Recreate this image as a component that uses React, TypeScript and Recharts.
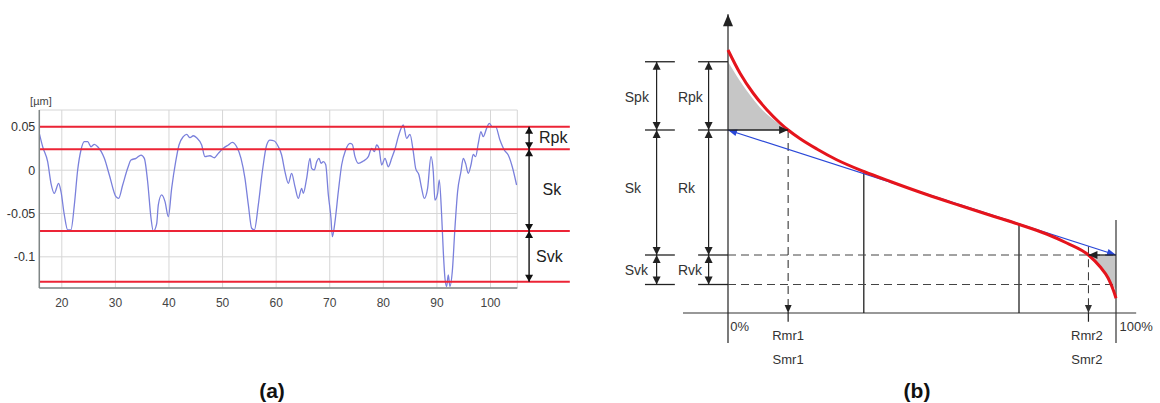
import React from 'react';
import {
  ComposedChart,
  Line,
  Area,
  XAxis,
  YAxis,
  CartesianGrid,
  ReferenceLine,
  ReferenceDot,
} from 'recharts';

const FONT = '"Liberation Sans", Arial, Helvetica, sans-serif';

// ---------------- Panel (a): roughness profile ----------------
const profileX = [
  15.8, 16.43, 17.36, 17.98, 18.6, 19.41, 19.85, 20.47, 21.1, 21.7, 22.34, 22.96, 23.58, 24.2, 24.83,
  25.45, 26.07, 26.7, 27.94, 28.87, 30.11, 30.61, 31.36, 32.29, 32.91, 33.85, 34.78, 35.4, 36.02,
  36.65, 37.08, 37.7, 38.01, 38.63, 39.26, 39.88, 40.5, 41.25, 41.87, 42.67, 43.3, 43.92, 44.54,
  45.16, 46.1, 46.72, 47.65, 48.46, 49.2, 50.14, 51.07, 51.82, 52.63, 53.44, 54.18, 54.81, 55.43,
  55.93, 56.67, 57.42, 58.23, 58.85, 59.66, 60.41, 61.02, 61.64, 62.27, 62.89, 63.51, 64.13, 64.76,
  65.07, 65.69, 66.31, 66.62, 67.12, 67.56, 68.0, 68.37, 68.8, 69.24, 69.74, 70.23, 70.48, 70.98,
  71.6, 72.22, 72.97, 73.77, 74.21, 74.71, 75.33, 76.26, 77.2, 77.82, 78.32, 78.75, 79.19, 79.69,
  80.31, 80.93, 81.56, 82.3, 82.79, 83.72, 84.35, 84.97, 85.59, 86.03, 86.65, 87.15, 87.64, 88.26,
  88.89, 89.32, 89.63, 90.13, 90.44, 90.88, 91.19, 91.5, 91.81, 92.12, 92.43, 92.87, 93.36, 93.86,
  94.48, 94.92, 95.35, 95.85, 96.35, 96.78, 97.22, 97.72, 98.21, 98.65, 99.27, 99.77, 100.33,
  100.95, 101.76, 102.57, 103.31, 104.06, 104.87,
];
const profileY = [
  0.0426, 0.0271, 0.0098, -0.0151, -0.0267, -0.0151, -0.0248, -0.0517, -0.069, -0.069, -0.0401,
  0.0002, 0.0233, 0.0329, 0.0329, 0.0271, 0.0298, 0.0271, 0.0137, -0.0055, -0.0306, -0.0325,
  -0.0171, 0.0022, 0.0118, 0.0137, 0.0175, 0.0137, -0.0133, -0.0555, -0.0705, -0.062, -0.0401,
  -0.0286, -0.0363, -0.0536, -0.0209, 0.0098, 0.0291, 0.0387, 0.0414, 0.0375, 0.0398, 0.0375,
  0.0291, 0.0156, 0.0167, 0.0144, 0.0194, 0.0252, 0.0291, 0.0321, 0.0271, 0.0137, -0.0094, -0.0401,
  -0.067, -0.069, -0.0401, -0.0017, 0.0291, 0.0348, 0.0337, 0.0271, 0.0175, -0.0017, -0.0151,
  -0.0036, -0.019, -0.0325, -0.0209, -0.0267, -0.0094, 0.0137, 0.0022, 0.0003, 0.0098, 0.0137,
  0.0079, 0.0098, 0.0067, -0.0286, -0.0555, -0.0767, -0.0594, -0.0248, 0.006, 0.0233, 0.031,
  0.0298, 0.0156, 0.0079, 0.0106, 0.0156, 0.0252, 0.0214, 0.0291, 0.0252, 0.006, 0.0137, 0.004,
  0.0137, 0.0271, 0.0387, 0.0522, 0.0367, 0.0414, 0.0214, 0.0022, -0.0055, -0.0209, -0.0325,
  -0.0209, 0.0156, -0.0017, -0.0344, -0.0267, -0.0113, -0.0517, -0.094, -0.1247, -0.1343, -0.1209,
  -0.1343, -0.117, -0.067, -0.0248, -0.0017, 0.0137, 0.0079, -0.0036, 0.006, 0.0183, 0.0156, 0.031,
  0.0444, 0.0387, 0.0483, 0.0541, 0.0502, 0.0502, 0.0348, 0.0233, 0.0175, 0.004, -0.0171,
];
const profileData = profileX.map((x, i) => ({ x, h: profileY[i] }));

const aXTicks = [20, 30, 40, 50, 60, 70, 80, 90, 100];
const aYTicks = [-0.1, -0.05, 0, 0.05];
const aXDomain: [number, number] = [15.8, 105];
const aYDomain: [number, number] = [-0.136, 0.0695];
const aRedLevels = [0.0502, 0.0241, -0.0702, -0.1287];
const aRedStart = 15.8;
const aRedEnd = 114.8;
const aArrowX = 107.2;
const aBandNames = ['Rpk', 'Sk', 'Svk'];
const aBandLabelX = [109.05, 109.7, 108.5];
const aBandLabelY = [0.0372, -0.0228, -0.1];
const aUnit = '[µm]';
const aUnitPos = { x: 16.1, y: 0.0803 };

// ---------------- Panel (b): Abbott-Firestone curve ----------------
const curveX = [0, 3.1, 6.5, 10, 13.4, 15.5, 18.6, 22.9, 28, 35, 42, 51.2, 59.8, 68.4, 75.1, 82.1, 87.3, 92.9, 95.9, 98, 99.3, 100];
const curveY = [10.52, 9.59, 8.79, 8.13, 7.6, 7.32, 6.97, 6.56, 6.13, 5.66, 5.25, 4.74, 4.3, 3.87, 3.54, 3.16, 2.8, 2.32, 1.85, 1.39, 0.92, 0.59];
const curveData = curveX.map((x, i) => ({ x, y: curveY[i] }));

const greyLX = [0, 3, 6, 9, 12, 15.5];
const greyLTop = [10.05, 9.3, 8.65, 8.1, 7.7, 7.32];
const greyRX = [92.9, 95, 97, 98.5, 100];
const greyRLow = [2.32, 2.0, 1.6, 1.2, 0.95];

// levels: Rpk top, Rk top, Rk bottom, Rvk bottom
const bLevels = [10.05, 7.32, 2.32, 1.14];
const bMr1 = 15.5;
const bMr2 = 92.9;
const bMr2Top = 2.67;
const bVerticalX = [35, 75];
const bVerticalTop = [5.66, 3.54];
const bColX = [-18.4, -5.0];
const bColTickFrom = [-21.4, -7.7];
const bColTickTo = [-13.7, 0];
const bColLabelX = [-26.6, -12.9];
const bLabelsS = ['Spk', 'Sk', 'Svk'];
const bLabelsR = ['Rpk', 'Rk', 'Rvk'];
const bLabelY = [8.65, 5.0, 1.72];
const bXDomain: [number, number] = [-30, 110];
const bYDomain: [number, number] = [-3.6, 12];
const bAxisXFrom = -11.6;
const bAxisXTo = 105.2;
const bAxisYBottom = -1.2;
const bAxisYTop = 11.95;
const bRightLineTop = 3.72;

const greyLData = greyLX.map((x, i) => ({ x, r: [bLevels[1], greyLTop[i]] }));
const greyRData = greyRX.map((x, i) => ({ x, r: [greyRLow[i], bLevels[2]] }));

// ---------------- shapes ----------------
type ArrowOpts = {
  color?: string;
  width?: number;
  dash?: string;
  start?: boolean;
  end?: boolean;
  head?: number;
  half?: number;
};

function arrow(o: ArrowOpts) {
  const color = o.color ?? '#222';
  const h = o.head ?? 8;
  const w = o.half ?? 3.5;
  return (p: any) => {
    const x1 = Number(p.x1), y1 = Number(p.y1), x2 = Number(p.x2), y2 = Number(p.y2);
    if (![x1, y1, x2, y2].every(Number.isFinite)) return <g />;
    const dx = x2 - x1, dy = y2 - y1;
    const L = Math.hypot(dx, dy) || 1;
    const ux = dx / L, uy = dy / L;
    const headPts = (tx: number, ty: number, ex: number, ey: number) => {
      const bx = tx - ex * h, by = ty - ey * h;
      return `${tx},${ty} ${bx - ey * w},${by + ex * w} ${bx + ey * w},${by - ex * w}`;
    };
    return (
      <g>
        <line x1={x1} y1={y1} x2={x2} y2={y2} stroke={color} strokeWidth={o.width ?? 1} strokeDasharray={o.dash} />
        {o.start ? <polygon points={headPts(x1, y1, -ux, -uy)} fill={color} /> : null}
        {o.end ? <polygon points={headPts(x2, y2, ux, uy)} fill={color} /> : null}
      </g>
    );
  };
}

function txt(text: string, o: { size?: number; anchor?: 'start' | 'middle' | 'end'; color?: string }) {
  return (p: any) => (
    <text
      x={p.cx}
      y={p.cy}
      textAnchor={o.anchor ?? 'middle'}
      dominantBaseline="central"
      fontFamily={FONT}
      fontSize={o.size ?? 13}
      fill={o.color ?? '#333'}
    >
      {text}
    </text>
  );
}

const RED_A = '#ec2436';
const RED_B = '#e5141c';
const BLUE_B = '#2a48d8';

function PanelA() {
  return (
    <ComposedChart
      width={600}
      height={403}
      data={profileData}
      margin={{ top: 110, right: 82.7, bottom: 95, left: 0 }}
    >
      <CartesianGrid stroke="#d6d6d6" strokeWidth={1} />
      <XAxis
        type="number"
        dataKey="x"
        domain={aXDomain}
        ticks={aXTicks}
        allowDataOverflow
        height={20}
        tickLine={false}
        tickSize={0}
        tickMargin={10}
        axisLine={{ stroke: '#7f8686', strokeWidth: 1.5 }}
        tick={{ fontSize: 12, fontFamily: FONT, fill: '#444' }}
      />
      <YAxis
        type="number"
        domain={aYDomain}
        ticks={aYTicks}
        allowDataOverflow
        width={39.3}
        tickLine={false}
        tickSize={0}
        tickMargin={4}
        axisLine={{ stroke: '#7f8686', strokeWidth: 1.5 }}
        tick={{ fontSize: 12.5, fontFamily: FONT, fill: '#333' }}
      />
      <Line
        type="monotone"
        dataKey="h"
        stroke="#7a80dc"
        strokeWidth={1.3}
        dot={false}
        isAnimationActive={false}
      />
      {aRedLevels.map((lv, i) => (
        <ReferenceLine
          key={`red${i}`}
          segment={[{ x: aRedStart, y: lv }, { x: aRedEnd, y: lv }]}
          ifOverflow="visible"
          stroke={RED_A}
          strokeWidth={2}
        />
      ))}
      {aBandNames.map((n, i) => (
        <ReferenceLine
          key={`arr${i}`}
          segment={[{ x: aArrowX, y: aRedLevels[i] }, { x: aArrowX, y: aRedLevels[i + 1] }]}
          ifOverflow="visible"
          shape={arrow({ color: '#111', width: 1.4, start: true, end: true, head: 7, half: 4 })}
        />
      ))}
      {aBandNames.map((n, i) => (
        <ReferenceDot
          key={`lab${i}`}
          x={aBandLabelX[i]}
          y={aBandLabelY[i]}
          r={0}
          ifOverflow="visible"
          shape={txt(n, { size: 16, anchor: 'start', color: '#222' })}
        />
      ))}
      <ReferenceDot
        x={aUnitPos.x}
        y={aUnitPos.y}
        r={0}
        ifOverflow="visible"
        shape={txt(aUnit, { size: 11, anchor: 'middle', color: '#444' })}
      />
    </ComposedChart>
  );
}

function PanelB() {
  const dash = '8 5';
  return (
    <ComposedChart
      width={560}
      height={403}
      margin={{ top: 13, right: 5.2, bottom: 0, left: 11.6 }}
    >
      <XAxis type="number" dataKey="x" domain={bXDomain} allowDataOverflow hide />
      <YAxis type="number" domain={bYDomain} allowDataOverflow hide />
      <Area
        data={greyLData}
        dataKey="r"
        type="monotone"
        stroke="none"
        fill="#c6c6c6"
        fillOpacity={1}
        isAnimationActive={false}
      />
      <Area
        data={greyRData}
        dataKey="r"
        type="monotone"
        stroke="none"
        fill="#c6c6c6"
        fillOpacity={1}
        isAnimationActive={false}
      />
      {/* axes */}
      <ReferenceLine
        segment={[{ x: bAxisXFrom, y: 0 }, { x: bAxisXTo, y: 0 }]}
        ifOverflow="visible"
        shape={arrow({ color: '#333', width: 1.2 })}
      />
      <ReferenceLine
        segment={[{ x: 0, y: bAxisYBottom }, { x: 0, y: bAxisYTop }]}
        ifOverflow="visible"
        shape={arrow({ color: '#222', width: 1.2, end: true, head: 12, half: 5 })}
      />
      <ReferenceLine
        segment={[{ x: 100, y: bAxisYBottom }, { x: 100, y: bRightLineTop }]}
        ifOverflow="visible"
        shape={arrow({ color: '#333', width: 1.2 })}
      />
      {bVerticalX.map((vx, i) => (
        <ReferenceLine
          key={`v${i}`}
          segment={[{ x: vx, y: 0 }, { x: vx, y: bVerticalTop[i] }]}
          ifOverflow="visible"
          shape={arrow({ color: '#222', width: 1.3 })}
        />
      ))}
      {/* dashed horizontals */}
      {[bLevels[2], bLevels[3]].map((lv, i) => (
        <ReferenceLine
          key={`dh${i}`}
          segment={[{ x: 0, y: lv }, { x: 100, y: lv }]}
          ifOverflow="visible"
          shape={arrow({ color: '#444', width: 1, dash })}
        />
      ))}
      {/* dashed verticals to Rmr1 / Rmr2 */}
      <ReferenceLine
        segment={[{ x: bMr1, y: bLevels[1] }, { x: bMr1, y: 0 }]}
        ifOverflow="visible"
        shape={arrow({ color: '#222', width: 1, dash, end: true, head: 8, half: 3.5 })}
      />
      <ReferenceLine
        segment={[{ x: bMr1, y: 0 }, { x: bMr1, y: -0.35 }]}
        ifOverflow="visible"
        shape={arrow({ color: '#222', width: 1.2 })}
      />
      <ReferenceLine
        segment={[{ x: bMr2, y: bMr2Top }, { x: bMr2, y: 0 }]}
        ifOverflow="visible"
        shape={arrow({ color: '#333', width: 1, dash, end: true, head: 8, half: 3.5 })}
      />
      <ReferenceLine
        segment={[{ x: bMr2, y: 0 }, { x: bMr2, y: -0.35 }]}
        ifOverflow="visible"
        shape={arrow({ color: '#222', width: 1.2 })}
      />
      {/* bracket ticks and double arrows */}
      {bColX.map((cx, c) =>
        bLevels.map((lv, i) => (
          <ReferenceLine
            key={`t${c}-${i}`}
            segment={[{ x: bColTickFrom[c], y: lv }, { x: bColTickTo[c], y: lv }]}
            ifOverflow="visible"
            shape={arrow({ color: '#222', width: 1.3 })}
          />
        ))
      )}
      {bColX.map((cx, c) =>
        bLevels.slice(0, 3).map((lv, i) => (
          <ReferenceLine
            key={`d${c}-${i}`}
            segment={[{ x: cx, y: lv }, { x: cx, y: bLevels[i + 1] }]}
            ifOverflow="visible"
            shape={arrow({ color: '#222', width: 1.2, start: true, end: true, head: 8, half: 4 })}
          />
        ))
      )}
      {/* blue equivalent line */}
      <ReferenceLine
        segment={[{ x: 0, y: bLevels[1] }, { x: 100, y: bLevels[2] }]}
        ifOverflow="visible"
        shape={arrow({ color: BLUE_B, width: 1.2, start: true, end: true, head: 9, half: 3.5 })}
      />
      <Line
        data={curveData}
        dataKey="y"
        type="monotone"
        stroke={RED_B}
        strokeWidth={3}
        dot={false}
        isAnimationActive={false}
      />
      {/* black arrows at Mr1 / Mr2 levels */}
      <ReferenceLine
        segment={[{ x: 0, y: bLevels[1] }, { x: bMr1, y: bLevels[1] }]}
        ifOverflow="visible"
        shape={arrow({ color: '#222', width: 1.3, end: true, head: 9, half: 4 })}
      />
      <ReferenceLine
        segment={[{ x: 100, y: bLevels[2] }, { x: bMr2, y: bLevels[2] }]}
        ifOverflow="visible"
        shape={arrow({ color: '#222', width: 1.3, end: true, head: 9, half: 4 })}
      />
      {/* labels */}
      {bLabelsS.map((n, i) => (
        <ReferenceDot
          key={`ls${i}`}
          x={bColLabelX[0]}
          y={bLabelY[i]}
          r={0}
          ifOverflow="visible"
          shape={txt(n, { size: 14, anchor: 'start', color: '#333' })}
        />
      ))}
      {bLabelsR.map((n, i) => (
        <ReferenceDot
          key={`lr${i}`}
          x={bColLabelX[1]}
          y={bLabelY[i]}
          r={0}
          ifOverflow="visible"
          shape={txt(n, { size: 14, anchor: 'start', color: '#333' })}
        />
      ))}
      <ReferenceDot x={0.6} y={-0.55} r={0} ifOverflow="visible" shape={txt('0%', { size: 13, anchor: 'start' })} />
      <ReferenceDot x={100.9} y={-0.55} r={0} ifOverflow="visible" shape={txt('100%', { size: 13, anchor: 'start' })} />
      <ReferenceDot x={bMr1} y={-0.9} r={0} ifOverflow="visible" shape={txt('Rmr1', { size: 13 })} />
      <ReferenceDot x={bMr1} y={-1.85} r={0} ifOverflow="visible" shape={txt('Smr1', { size: 13 })} />
      <ReferenceDot x={bMr2 - 0.4} y={-0.9} r={0} ifOverflow="visible" shape={txt('Rmr2', { size: 13 })} />
      <ReferenceDot x={bMr2 - 0.4} y={-1.85} r={0} ifOverflow="visible" shape={txt('Smr2', { size: 13 })} />
    </ComposedChart>
  );
}

const captionStyle: React.CSSProperties = {
  position: 'absolute',
  top: 378,
  width: 80,
  textAlign: 'center',
  fontFamily: FONT,
  fontWeight: 'bold',
  fontSize: 21,
  color: '#111',
  lineHeight: '26px',
};

export default function App() {
  return (
    <div style={{ position: 'absolute', left: 0, top: 0, width: 1160, height: 403, background: '#fff', overflow: 'hidden' }}>
      <div style={{ position: 'absolute', left: 0, top: 0 }}>
        <PanelA />
      </div>
      <div style={{ position: 'absolute', left: 600, top: 0 }}>
        <PanelB />
      </div>
      <div style={{ ...captionStyle, left: 272 - 40 }}>(a)</div>
      <div style={{ ...captionStyle, left: 917 - 40 }}>(b)</div>
    </div>
  );
}
